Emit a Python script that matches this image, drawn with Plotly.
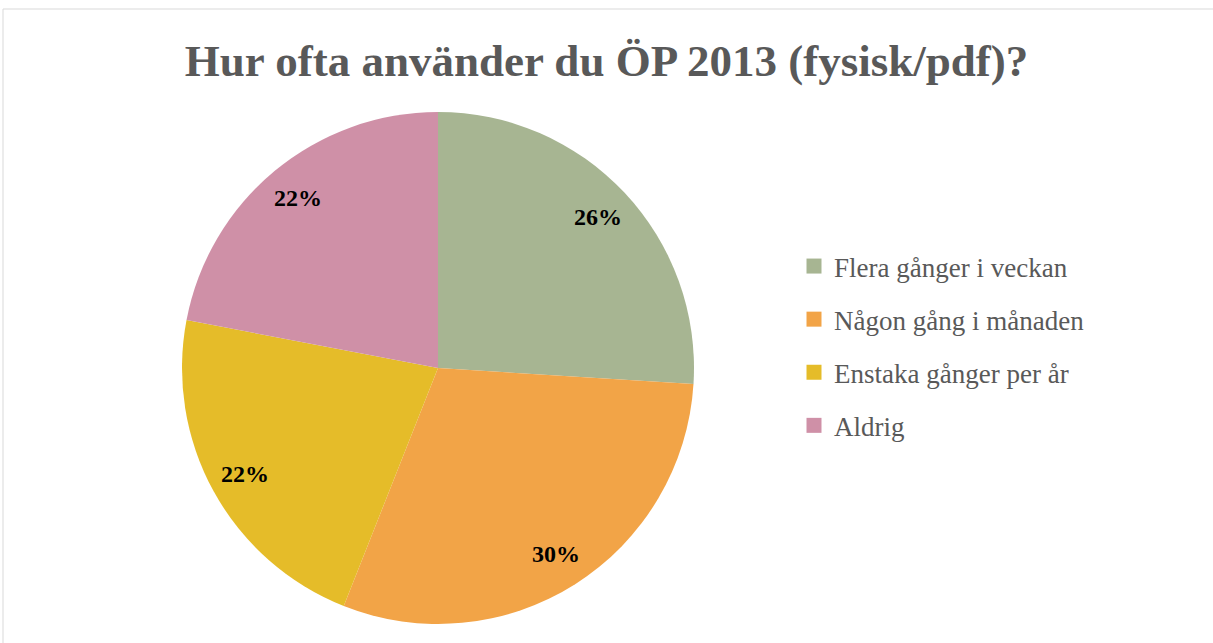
import math
import plotly.graph_objects as go

labels = ["Flera gånger i veckan", "Någon gång i månaden", "Enstaka gånger per år", "Aldrig"]
values = [26, 30, 22, 22]
colors = ["#A7B592", "#F2A447", "#E5BC29", "#CF90A7"]
title_text = "Hur ofta använder du ÖP 2013 (fysisk/pdf)?"

W, H = 1213, 643
cx, cy, r = 438, 368, 256
label_frac = 0.86

fig = go.Figure()
fig.add_trace(go.Pie(
    labels=labels, values=values, sort=False, direction="clockwise", rotation=0,
    marker=dict(colors=colors, line=dict(color="white", width=0)),
    textinfo="none", showlegend=False,
    domain=dict(x=[(cx - r) / W, (cx + r) / W], y=[1 - (cy + r) / H, 1 - (cy - r) / H]),
    hoverinfo="label+percent",
))

# legend entries (one group each so spacing can be set)
for i, (lab, col) in enumerate(zip(labels, colors)):
    fig.add_trace(go.Scatter(
        x=[None], y=[None], mode="markers", name=lab, legendgroup=f"g{i}",
        marker=dict(symbol="square", size=15, color=col), hoverinfo="skip",
    ))

# percentage labels at mid-angles of the slices
total = sum(values)
annotations = []
cum = 0
for v in values:
    mid = (cum + v / 2) / total * 2 * math.pi
    cum += v
    d = label_frac * r
    px = cx + d * math.sin(mid)
    py = cy - d * math.cos(mid)
    annotations.append(dict(
        x=px / W, y=1 - py / H, xref="paper", yref="paper", showarrow=False,
        text=f"<b>{round(v / total * 100)}%</b>", xanchor="center", yanchor="middle",
        font=dict(family="Liberation Serif", size=24, color="black"),
    ))

fig.update_layout(
    width=W, height=H, margin=dict(l=0, r=0, t=0, b=0),
    paper_bgcolor="white", plot_bgcolor="white",
    xaxis=dict(visible=False), yaxis=dict(visible=False),
    title=dict(text="<b>" + title_text + "</b>", x=0.5, xanchor="center", y=1 - 60 / H, yanchor="middle",
               font=dict(family="Liberation Serif", size=45, color="#595959")),
    legend=dict(x=794 / W, xanchor="left", y=1 - 346 / H, yanchor="middle",
                font=dict(family="Liberation Serif", size=27, color="#595959"),
                itemwidth=30, tracegroupgap=15, bgcolor="rgba(0,0,0,0)"),
    annotations=annotations,
    shapes=[dict(type="rect", xref="paper", yref="paper", x0=3 / W, x1=1.01, y0=-0.01, y1=1 - 9 / H,
                 line=dict(color="#D9D9D9", width=1))],
)

fig.write_html("out.html", config={"displayModeBar": False},
               post_script="document.body.style.margin='0';")
